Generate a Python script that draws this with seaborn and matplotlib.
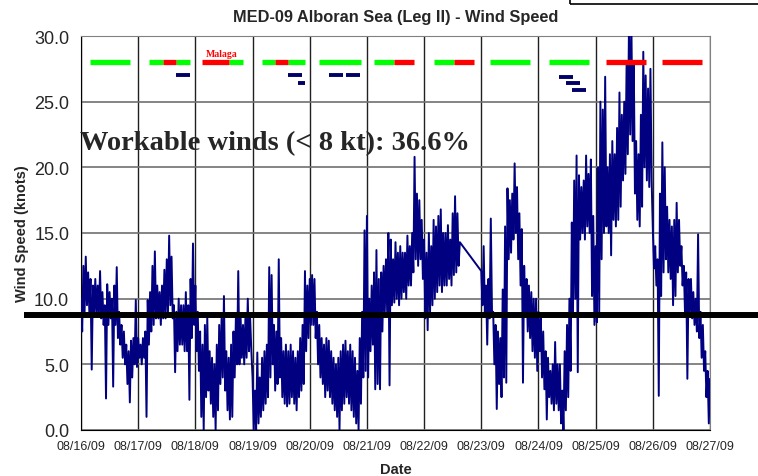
import pandas as pd
import matplotlib
matplotlib.use("Agg")
import matplotlib.pyplot as plt
import matplotlib.dates as mdates
from matplotlib.patches import Rectangle
from matplotlib.ticker import FormatStrFormatter
import seaborn as sns

# wind speed (kt), every 30 min: hourly high then low
aug16 = [10, 7.5, 12.5, 9, 13.2, 9.5, 12, 9, 11.5, 4.6, 11, 9, 11.5, 8.6, 11, 8.8,
         12.1, 8.5, 10.5, 8, 9.5, 2.4, 11.1, 8, 10.5, 8.5, 10, 3.3, 11, 8, 12.4, 7,
         9, 6.5, 8, 5.5, 7.5, 5, 6.5, 3.5, 6, 2.1, 6.8, 4, 7, 5, 9.9, 4.8]
aug17 = [7, 5.5, 6.5, 5, 7, 5.5, 7.5, 1.0, 9.9, 6.5, 10.5, 7.5, 12.5, 8, 13.6, 8.5,
         11, 8.5, 10.5, 8, 11, 8.5, 12.2, 8.5, 13, 9, 14.8, 9.5, 13.2, 8.5, 9.5, 4.4,
         9, 6, 10, 6.5, 9.5, 6.5, 9.5, 6, 10.5, 6, 9.5, 2.3, 11.5, 7, 14.2, 8]
aug18 = [11, 6, 9, 4.5, 7.5, 1.0, 6.5, 0, 8, 2.5, 8.6, 3, 6, 2, 5.5, 1,
         5, 0, 6.5, 1.5, 8, 3.5, 8.5, 4, 10.2, 3, 6, 1.5, 5.5, 0.8, 6.5, 1,
         7.5, 4, 8.5, 5, 12.1, 5, 8.5, 5.5, 8, 5, 8.5, 5.5, 10, 6, 8.5, 6]
aug19 = [4, 0, 3, 0, 5.9, 0.5, 4, 1, 5.5, 1.5, 6, 2, 6.5, 2.5, 12.4, 4,
         11.8, 5, 8, 3, 7.5, 3.5, 13, 4, 7, 2.5, 6, 2, 6.5, 1.8, 6, 2,
         6.5, 2.5, 6, 2, 5.5, 1.5, 6, 2.5, 7, 3, 8, 3.5, 12.1, 6, 11, 7]
aug20 = [11.5, 8, 11.8, 8, 11.5, 7, 9, 5, 8, 4, 7, 3.5, 6.5, 2.5, 7, 3,
         6.8, 2.5, 6, 2, 5.5, 1.5, 5, 1, 5.5, 0, 6, 1.5, 6.5, 2, 6.8, 2.5,
         6, 2, 6.5, 1.5, 6, 1, 5.5, 0.5, 4.5, 0, 7, 2, 9, 4, 15.2, 4.5]
aug21 = [16.3, 4, 10, 6, 11, 6.5, 12, 3.1, 13.7, 3.5, 11.5, 3.1, 12, 7.5, 12.5, 9,
         13, 9, 15, 3.4, 14.5, 9.5, 13, 9.7, 14.3, 10, 13.5, 9.5, 14, 10, 13.5, 10.5,
         13.5, 10, 14.8, 11, 14, 11, 15, 12, 20.8, 13, 18, 12.5, 17.5, 13, 16, 11.5]
aug22 = [14.5, 8.5, 13.5, 7.6, 15, 9, 14, 9.5, 16, 10, 15.5, 10.5, 16.3, 11, 16.8, 10.5,
         15, 11, 15, 11, 15.6, 11.5, 14.5, 11, 16.5, 11.8, 17.8, 12, 16.5, 12.5, 14.3]
aug23 = [12.1, 9.5, 14, 9, 11, 6.5, 11.5, 8.5, 16.1, 9, 9, 5, 8, 1.6, 7.5, 3.5,
         7, 2.5, 10.7, 4, 15.5, 3.6, 18.4, 13, 17.5, 13.5, 18, 14.5, 20.3, 15, 18.5, 13,
         16.5, 11, 15.3, 3.6, 12.5, 9, 11.5, 7.5, 11, 7, 10.5, 6, 10, 5.5, 10, 4.5]
aug24 = [9, 6, 8.5, 4, 7.5, 3.1, 6, 0.8, 5.5, 2.5, 4.5, 2, 5, 1.5, 6.7, 2,
         5, 1.5, 5, 0.5, 3, 0, 6, 1.5, 8, 2.5, 10, 4.5, 15.8, 9, 19, 10,
         20.9, 4.4, 19.4, 14.5, 18.5, 15, 19, 14.5, 20.9, 15.5, 19.5, 15, 20.6, 10.2, 16.3, 8]
aug25 = [14, 8.2, 20, 9, 25, 13, 24.4, 15, 26.9, 15.5, 20, 15, 21, 13.3, 22, 16,
         21, 15.5, 23, 16, 25.7, 17, 24, 19, 25, 19.5, 28, 21, 31, 22.5, 31, 22,
         28, 18, 22, 16, 21, 15.5, 24, 17, 28.8, 20, 27, 19, 26, 18.5, 27.5, 19]
aug26 = [15.3, 12.3, 14, 11, 13, 2.6, 18, 10.2, 21.9, 12, 20, 13, 17, 12, 16, 11.5,
         15.5, 9.5, 16, 10.2, 17.3, 12, 16, 12.5, 14, 11, 12.5, 9, 12, 3.9, 11.5, 8.7,
         11.5, 8.5, 10.5, 8, 10, 7.5, 14.9, 7, 9, 5.5, 8, 4.5, 6, 2.5, 4.5, 0.5]
aug27 = [3.9]

dates = ["2009-08-16", "2009-08-17", "2009-08-18", "2009-08-19", "2009-08-20", "2009-08-21",
         "2009-08-22", "2009-08-23", "2009-08-24", "2009-08-25", "2009-08-26", "2009-08-27"]
days = [aug16, aug17, aug18, aug19, aug20, aug21, aug22, aug23, aug24, aug25, aug26, aug27]

threshold_kt = 8.75
workable_pct = 36.6

# daily status bars (date, start hour, end hour)
green_bars = [("2009-08-16", 3.8, 20.6), ("2009-08-17", 4.5, 10.3), ("2009-08-17", 15.9, 21.8),
              ("2009-08-18", 14.1, 20.0), ("2009-08-19", 3.8, 9.4), ("2009-08-19", 14.9, 22.0),
              ("2009-08-20", 3.9, 21.5), ("2009-08-21", 2.9, 11.3), ("2009-08-22", 4.1, 12.5),
              ("2009-08-23", 3.6, 20.4), ("2009-08-24", 4.3, 21.1)]
red_bars = [("2009-08-17", 10.3, 15.9), ("2009-08-18", 2.8, 14.1), ("2009-08-19", 9.4, 14.9),
            ("2009-08-21", 11.3, 19.7), ("2009-08-22", 12.5, 20.9), ("2009-08-25", 4.3, 21.1),
            ("2009-08-26", 3.8, 20.6)]
bar_level = 28.0
# (date, start hour, end hour, level)
navy_bars = [("2009-08-17", 15.9, 21.8, 27.0), ("2009-08-19", 14.9, 20.7, 27.0),
             ("2009-08-19", 19.1, 22.0, 26.4), ("2009-08-20", 8.1, 13.9, 27.0),
             ("2009-08-20", 15.2, 21.1, 27.0), ("2009-08-24", 8.6, 14.4, 26.9),
             ("2009-08-24", 11.5, 17.3, 26.4), ("2009-08-24", 13.9, 19.9, 25.9)]

sns.set_style("white")
plt.rcParams["font.family"] = ["Liberation Sans", "DejaVu Sans"]

times, speeds = [], []
for d, vals in zip(dates, days):
    t0 = pd.Timestamp(d)
    for i, v in enumerate(vals):
        times.append(t0 + pd.Timedelta(minutes=30 * i))
        speeds.append(v)
df = pd.DataFrame({"Date": times, "Wind": speeds})

fig = plt.figure(figsize=(7.58, 4.77), dpi=100)
ax = fig.add_axes([81 / 758, 46 / 477, 629 / 758, 394 / 477])

sns.lineplot(data=df, x="Date", y="Wind", ax=ax, color="#000080", lw=1.4, estimator=None, zorder=3)

def t(d, h):
    return pd.Timestamp(d) + pd.Timedelta(hours=h)

for d, a, b in green_bars:
    ax.hlines(bar_level, t(d, a), t(d, b), colors="#00ff00", lw=3.8, capstyle="butt", zorder=4)
for d, a, b in red_bars:
    ax.hlines(bar_level, t(d, a), t(d, b), colors="#ff0000", lw=3.8, capstyle="butt", zorder=4)
for d, a, b, lev in navy_bars:
    ax.hlines(lev, t(d, a), t(d, b), colors="#000066", lw=2.8, capstyle="butt", zorder=4)

ax.text(t("2009-08-18", 11.2), 28.7, "Malaga", color="#ff0000", fontsize=7, fontweight="bold",
        family="Liberation Serif", ha="center", va="center")

# workable-wind threshold, runs past the plot frame
ax.plot([-0.09, 1.08], [threshold_kt, threshold_kt], transform=ax.get_yaxis_transform(),
        color="black", lw=4.3, clip_on=False, zorder=6, solid_capstyle="butt")

ax.text(pd.Timestamp("2009-08-16") - pd.Timedelta(hours=0.5), 21.4,
        f"Workable winds (< 8 kt): {workable_pct}%", fontsize=20.5, fontweight="bold",
        family="Liberation Serif", ha="left", va="baseline", zorder=7)

ax.set_xlim(pd.Timestamp("2009-08-16"), pd.Timestamp("2009-08-27"))
ax.set_ylim(0, 30)
ax.set_xticks(pd.date_range("2009-08-16", "2009-08-27", freq="D"))
ax.xaxis.set_major_formatter(mdates.DateFormatter("%m/%d/%y"))
ax.set_yticks(range(0, 31, 5))
ax.yaxis.set_major_formatter(FormatStrFormatter("%.1f"))
ax.tick_params(axis="x", labelsize=9, length=4, direction="out", color="black")
ax.tick_params(axis="y", labelsize=13, length=5, direction="out", color="black")
ax.xaxis.grid(True, color="#202020", lw=1)
ax.yaxis.grid(True, color="#707070", lw=1.2)
ax.set_axisbelow(True)
for s in ["left", "bottom"]:
    ax.spines[s].set_color("black")
for s in ["top", "right"]:
    ax.spines[s].set_color("#808080")

ax.set_title("MED-09 Alboran Sea (Leg II) - Wind Speed", fontsize=11.8, fontweight="bold", pad=11)
ax.set_xlabel("Date", fontsize=10.5, fontweight="bold", labelpad=7)
ax.set_ylabel("Wind Speed (knots)", fontsize=10.5, fontweight="bold", labelpad=4)

fig.add_artist(Rectangle((570 / 758, 472 / 477), 0.3, 0.1, transform=fig.transFigure,
                         fill=False, ec="black", lw=1.2))

fig.savefig("out.png", dpi=100)
